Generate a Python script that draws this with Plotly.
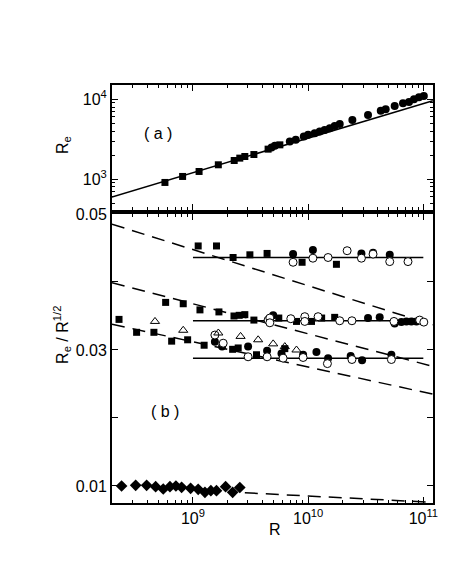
import plotly.graph_objects as go

# ---- panel (a): Re vs R ----
top_sq_R = [5.71e8, 8.13e8, 1.13e9, 1.66e9, 2.28e9, 2.55e9, 2.82e9, 3.38e9, 4.49e9, 5.68e9]
top_sq_Re = [907, 1078, 1245, 1510, 1708, 1830, 1917, 2030, 2371, 2685]
top_c_R = [4.81e9, 5.14e9, 6.93e9, 7.81e9, 9.17e9, 9.99e9, 1.14e10, 1.26e10, 1.39e10, 1.54e10, 1.70e10,
           1.88e10, 2.42e10, 3.31e10, 4.27e10, 4.71e10, 5.64e10, 6.66e10, 7.51e10, 8.30e10, 9.17e10, 1.01e11]
top_c_Re = [2483, 2608, 2951, 3099, 3408, 3580, 3758, 3936, 4131, 4340, 4638,
            4914, 5510, 6363, 7204, 7499, 8245, 8913, 9250, 10000, 10593, 11000]
top_fit_R = [1.98e8, 1.21e11]
top_fit_Re = [596, 9600]

# ---- panel (b): Re / R^1/2 vs R ----
sq_R = [1.11e9, 1.60e9, 2.23e9, 3.12e9, 4.40e9, 8.86e9, 1.76e10,
        5.79e8, 8.23e8, 1.15e9, 1.68e9, 2.27e9, 2.52e9, 2.82e9, 3.38e9, 5.56e9, 7.92e9, 1.07e10, 1.31e10, 1.70e10,
        2.28e8, 3.24e8, 4.58e8, 6.53e8, 8.99e8, 1.25e9, 2.21e9, 2.47e9, 3.56e9, 6.27e9]
sq_v = [0.0453, 0.0453, 0.0436, 0.0440, 0.0442, 0.0429, 0.0426,
        0.0370, 0.0368, 0.0359, 0.0356, 0.0350, 0.0351, 0.0352, 0.0344, 0.0347, 0.0342, 0.0342, 0.0347, 0.0348,
        0.0345, 0.0326, 0.0326, 0.0313, 0.0315, 0.0307, 0.0301, 0.0303, 0.0293, 0.0302]

fc_R = [7.40e9, 1.10e10, 2.90e10, 3.66e10, 5.11e10, 7.36e10,
        4.97e9, 3.31e10, 4.18e10, 5.64e10, 6.45e10, 7.13e10, 7.87e10, 8.71e10,
        1.55e9, 1.79e9, 3.01e9, 4.40e9, 5.87e9, 9.04e9, 1.18e10, 1.49e10, 2.34e10, 2.94e10, 5.28e10]
fc_v = [0.0441, 0.0447, 0.0442, 0.0443, 0.0440, 0.0431,
        0.0351, 0.0347, 0.0348, 0.0339, 0.0341, 0.0342, 0.0342, 0.0342,
        0.0312, 0.0305, 0.0305, 0.0299, 0.0295, 0.0293, 0.0297, 0.0288, 0.0291, 0.0285, 0.0293]

oc_R = [7.40e9, 1.10e10, 1.49e10, 2.18e10, 2.90e10, 3.66e10, 5.11e10, 7.36e10,
        4.49e9, 4.65e9, 4.65e9, 7.07e9, 9.35e9, 9.35e9, 1.22e10, 1.88e10, 2.40e10, 5.56e10, 9.29e10, 1.01e11,
        1.55e9, 1.83e9, 3.01e9, 4.40e9, 6.06e9, 9.04e9, 1.47e10, 2.40e10, 5.28e10]
oc_v = [0.0429, 0.0435, 0.0436, 0.0446, 0.0435, 0.0441, 0.0430, 0.0430,
        0.0344, 0.0347, 0.0340, 0.0346, 0.0349, 0.0342, 0.0349, 0.0343, 0.0343, 0.0342, 0.0344, 0.0341,
        0.0322, 0.0310, 0.0290, 0.0290, 0.0288, 0.0289, 0.0280, 0.0286, 0.0286]

tri_R = [4.68e8, 8.23e8, 1.66e9, 2.59e9, 3.68e9, 4.97e9, 6.27e9, 7.92e9]
tri_v = [0.0342, 0.0329, 0.0325, 0.0320, 0.0315, 0.0309, 0.0305, 0.0300]

dia_R = [2.40e8, 3.18e8, 3.96e8, 4.74e8, 5.52e8, 6.31e8, 7.11e8, 7.97e8,
         9.54e8, 1.11e9, 1.27e9, 1.43e9, 1.60e9, 1.92e9, 2.21e9, 2.55e9]
dia_v = [0.0100, 0.0101, 0.0101, 0.0099, 0.00956, 0.0099, 0.0100, 0.00981,
         0.00966, 0.00951, 0.00907, 0.00931, 0.00931, 0.0099, 0.00907, 0.00978]

# fits
flat_R = [1e9, 1e11]
flat_v = [0.0436, 0.0343, 0.0288]
dash_R = [1.98e8, 1.21e11]
dash_v = [[0.0485, 0.0337], [0.0399, 0.0276], [0.0338, 0.0235]]
dash_dia_R = [2.82e9, 1.21e11]
dash_dia_v = [0.0090, 0.0076]

FONT = "Liberation Sans, Arial, Helvetica, sans-serif"
blk = "black"

fig = go.Figure()

# panel (a)
fig.add_trace(go.Scatter(x=top_fit_R, y=top_fit_Re, mode="lines", line=dict(color=blk, width=1.5),
                         xaxis="x2", yaxis="y2"))
fig.add_trace(go.Scatter(x=top_sq_R, y=top_sq_Re, mode="markers",
                         marker=dict(symbol="square", size=7, color=blk), xaxis="x2", yaxis="y2"))
fig.add_trace(go.Scatter(x=top_c_R, y=top_c_Re, mode="markers",
                         marker=dict(symbol="circle", size=8, color=blk), xaxis="x2", yaxis="y2"))

# panel (b) lines
for v in flat_v:
    fig.add_trace(go.Scatter(x=flat_R, y=[v, v], mode="lines", line=dict(color=blk, width=1.5)))
for dv in dash_v:
    fig.add_trace(go.Scatter(x=dash_R, y=dv, mode="lines", line=dict(color=blk, width=1.5, dash="13px,8px")))
fig.add_trace(go.Scatter(x=dash_dia_R, y=dash_dia_v, mode="lines",
                         line=dict(color=blk, width=1.5, dash="13px,8px")))

# panel (b) markers
fig.add_trace(go.Scatter(x=sq_R, y=sq_v, mode="markers",
                         marker=dict(symbol="square", size=7, color=blk)))
fig.add_trace(go.Scatter(x=fc_R, y=fc_v, mode="markers",
                         marker=dict(symbol="circle", size=8, color=blk)))
fig.add_trace(go.Scatter(x=oc_R, y=oc_v, mode="markers",
                         marker=dict(symbol="circle", size=8, color="white", line=dict(color=blk, width=1))))
fig.add_trace(go.Scatter(x=tri_R, y=tri_v, mode="markers",
                         marker=dict(symbol="triangle-up-open", size=8, color=blk, line=dict(width=1))))
fig.add_trace(go.Scatter(x=dia_R, y=dia_v, mode="markers",
                         marker=dict(symbol="diamond", size=9, color=blk)))

minor_x = [k * 10 ** e for e in range(8, 12) for k in range(2, 10)]
minor_y2 = [k * 10 ** e for e in range(2, 5) for k in range(2, 10)]

axis_common = dict(showline=True, linecolor=blk, linewidth=2, mirror="ticks", ticks="inside",
                   tickcolor=blk, tickwidth=1, showgrid=False, zeroline=False,
                   tickfont=dict(family=FONT, size=16, color=blk))
xr = [8.297, 11.084]

# page body has an 8px margin, so the figure is a bit smaller and shifted
fig.update_layout(
    width=442, height=574,
    showlegend=False,
    plot_bgcolor="white", paper_bgcolor="white",
    margin=dict(l=104, r=17, t=77, b=79),
    font=dict(family=FONT, color=blk, size=16),
    xaxis=dict(axis_common, type="log", range=xr, anchor="y", domain=[0, 1], ticklen=6,
               tickvals=[1e9, 1e10, 1e11], ticktext=["10<sup>9</sup>", "10<sup>10</sup>", "10<sup>11</sup>"],
               minor=dict(ticks="inside", ticklen=3, tickcolor=blk, tickvals=minor_x)),
    xaxis2=dict(axis_common, type="log", range=xr, anchor="y2", domain=[0, 1], ticklen=6,
                tickvals=[1e9, 1e10, 1e11], showticklabels=False,
                minor=dict(ticks="inside", ticklen=3, tickcolor=blk, tickvals=minor_x)),
    yaxis=dict(axis_common, range=[0.0075, 0.05], domain=[0, 0.6914], anchor="x", ticklen=6,
               tickvals=[0.01, 0.02, 0.03, 0.04, 0.05], ticktext=["0.01", "", "0.03", "", "0.05"]),
    yaxis2=dict(axis_common, type="log", range=[2.6125, 4.179], domain=[0.701, 1], anchor="x2", ticklen=6,
                tickvals=[1e3, 1e4], ticktext=["10<sup>3</sup>", "10<sup>4</sup>"],
                minor=dict(ticks="inside", ticklen=3, tickcolor=blk, tickvals=minor_y2)),
    annotations=[
        dict(text="( a )", x=0.143, y=0.885, xref="paper", yref="paper", showarrow=False,
             xanchor="center", yanchor="middle", font=dict(size=16)),
        dict(text="( b )", x=0.165, y=0.218, xref="paper", yref="paper", showarrow=False,
             xanchor="center", yanchor="middle", font=dict(size=16)),
        dict(text="R<sub>e</sub>", x=-0.153, y=0.856, xref="paper", yref="paper", showarrow=False,
             xanchor="center", yanchor="middle", textangle=-90, font=dict(size=16)),
        dict(text="R<sub>e</sub> / R<sup>1/2</sup>", x=-0.156, y=0.402, xref="paper", yref="paper",
             showarrow=False, xanchor="center", yanchor="middle", textangle=-90, font=dict(size=16)),
        dict(text="R", x=0.508, y=-0.064, xref="paper", yref="paper", showarrow=False,
             xanchor="center", yanchor="middle", font=dict(size=16)),
    ],
)

fig.write_html("out.html")
